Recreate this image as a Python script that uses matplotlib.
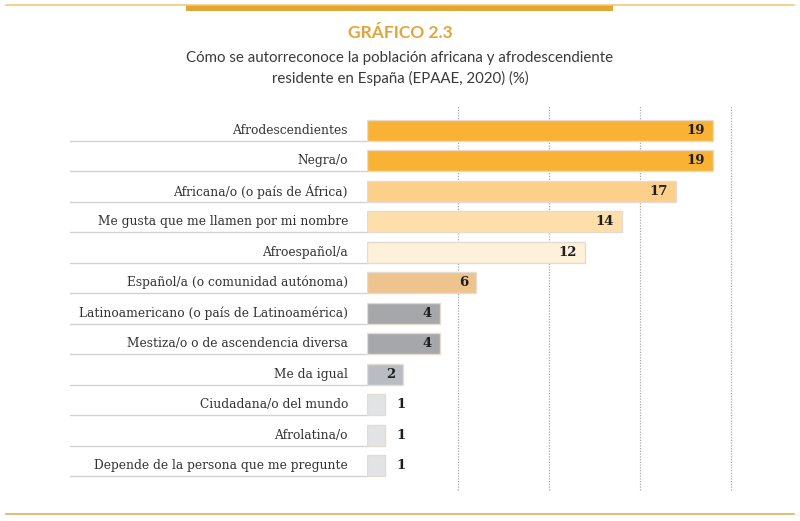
import numpy as np
import matplotlib
matplotlib.use('Agg')
import matplotlib.pyplot as plt
from matplotlib.transforms import blended_transform_factory
from matplotlib.lines import Line2D
from matplotlib.patches import Rectangle

categories = ['Afrodescendientes', 'Negra/o', 'Africana/o (o país de África)',
              'Me gusta que me llamen por mi nombre', 'Afroespañol/a',
              'Español/a (o comunidad autónoma)',
              'Latinoamericano (o país de Latinoamérica)',
              'Mestiza/o o de ascendencia diversa', 'Me da igual',
              'Ciudadana/o del mundo', 'Afrolatina/o',
              'Depende de la persona que me pregunte']
values = [19, 19, 17, 14, 12, 6, 4, 4, 2, 1, 1, 1]
colors = ['#F9B233', '#F9B233', '#FDD08A', '#FEDFA9', '#FEF0D9', '#EDC38E',
          '#A6A7AA', '#A6A7AA', '#B9BDC3', '#E2E3E4', '#E2E3E4', '#E2E3E4']
grid_ticks = [5, 10, 15, 20]

W, H = 800, 521
fig = plt.figure(figsize=(8, 5.21), dpi=100)

# axes: x=0 at px 367, x=20 at px 731; y from px 105 to 490
ax = fig.add_axes([367 / W, 1 - 490 / H, (731 - 367) / W, (490 - 105) / H])
n = len(categories)
y = np.arange(n)
ax.barh(y, values, height=0.69, color=colors, edgecolor='#E3DCD3', linewidth=1, zorder=3)
ax.set_xlim(0, 20)
ax.set_ylim(n - 1 + 0.79, -0.82)
for g in grid_ticks:
    ax.axvline(g, color='#A8A8A8', lw=0.9, ls=(0, (1, 1.2)), zorder=1, clip_on=False)
ax.axis('off')

trans = blended_transform_factory(fig.transFigure, ax.transData)
for i, (cat, v) in enumerate(zip(categories, values)):
    ax.plot([70 / W, 367 / W], [i + 0.345, i + 0.345], transform=trans,
            color='#D2D2D2', lw=1, clip_on=False, zorder=2)
    ax.text(348 / W, i, cat, transform=trans, ha='right', va='center',
            fontsize=8.8, family='DejaVu Serif', color='#333333')
    if v > 1:
        ax.text(v - 0.45, i, str(v), ha='right', va='center', fontsize=9.5,
                fontweight='heavy', family='DejaVu Serif', color='#1E1E1E', zorder=4)
    else:
        ax.text(v + 0.6, i, str(v), ha='left', va='center', fontsize=9.5,
                fontweight='heavy', family='DejaVu Serif', color='#1E1E1E', zorder=4)

# decorative rules
fig.add_artist(Line2D([6 / W, 794 / W], [1 - 5 / H, 1 - 5 / H], color='#F0C978', lw=1.2))
fig.add_artist(Rectangle((186 / W, 1 - 10.5 / H), (613 - 186) / W, 6 / H,
                         transform=fig.transFigure, color='#E3A533', lw=0))
fig.add_artist(Line2D([6 / W, 794 / W], [1 - 514 / H, 1 - 514 / H], color='#E0B060', lw=1.2))

fig.text(0.5, 1 - 33 / H, 'GRÁFICO 2.3', ha='center', va='center', fontsize=12.5,
         fontweight='bold', family='Lato', color='#E3A53A')
fig.text(0.5, 1 - 58 / H, 'Cómo se autorreconoce la población africana y afrodescendiente',
         ha='center', va='center', fontsize=10.8, family='Lato', fontweight='normal',
         color='#3A3A3A')
fig.text(0.5, 1 - 78 / H, 'residente en España (EPAAE, 2020) (%)',
         ha='center', va='center', fontsize=10.8, family='Lato', fontweight='normal',
         color='#3A3A3A')

fig.savefig('out.png', dpi=100)
